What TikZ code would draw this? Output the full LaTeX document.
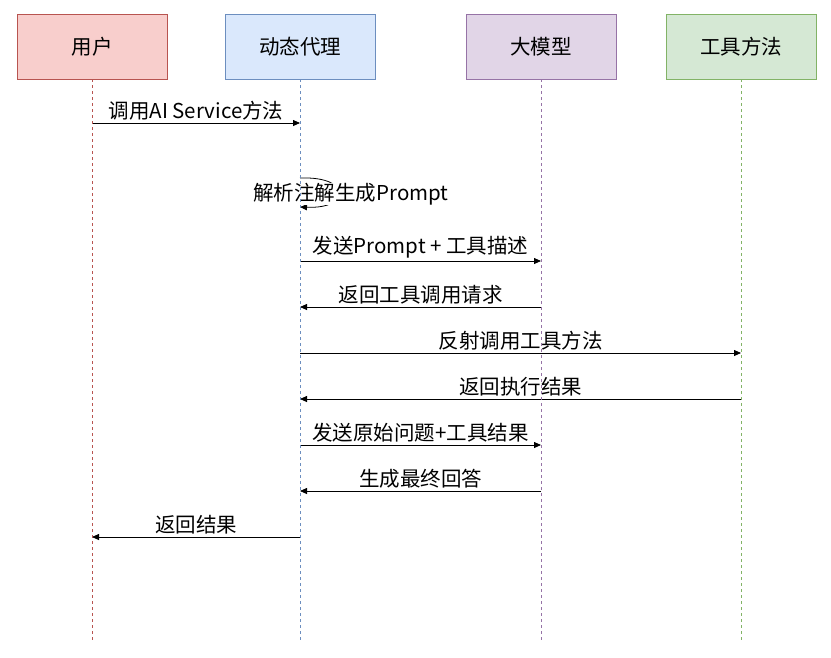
\documentclass[tikz,border=0pt]{standalone}
\usepackage{fontspec}
\setmainfont{Noto Sans CJK SC}
\usepackage{tikz}
\usetikzlibrary{arrows.meta,positioning}
\usepackage{xcolor}
\definecolor{usrfill}{HTML}{F8CECC}
\definecolor{usrline}{HTML}{B85450}
\definecolor{proxyfill}{HTML}{DAE8FC}
\definecolor{proxyline}{HTML}{6C8EBF}
\definecolor{llmfill}{HTML}{E1D5E7}
\definecolor{llmline}{HTML}{9673A6}
\definecolor{toolfill}{HTML}{D5E8D4}
\definecolor{toolline}{HTML}{82B366}
\tikzstyle{actor} = [rectangle, minimum width=150pt, minimum height=65pt, text centered, font=\fontsize{20.5pt}{22pt}\selectfont, line width=0.8pt]
\tikzstyle{lifeline} = [line width=0.7pt, dash pattern=on 3pt off 3pt]
\tikzstyle{msg} = [line width=0.8pt, -{Triangle[length=7pt,width=6pt]}]
\tikzstyle{msglabel} = [font=\fontsize{20.5pt}{22pt}\selectfont, inner sep=1pt, yshift=1pt]

\begin{document}
\begin{tikzpicture}[x=1pt, y=-1pt]
\useasboundingbox (0,0) rectangle (831,657);
% participants
\node[actor, draw=usrline, fill=usrfill] (user) at (92,46.5) {用户};
\node[actor, draw=proxyline, fill=proxyfill] (proxy) at (300,46.5) {动态代理};
\node[actor, draw=llmline, fill=llmfill] (llm) at (541,46.5) {大模型};
\node[actor, draw=toolline, fill=toolfill] (tool) at (741,46.5) {工具方法};

% lifeline ends
\coordinate (userend) at (92,640);
\coordinate (proxyend) at (300,640);
\coordinate (llmend) at (541,640);
\coordinate (toolend) at (741,640);

% message points
\coordinate (u1) at (92,123);   \coordinate (p1) at (300,123);
\coordinate (p2a) at (300,178); \coordinate (p2b) at (300,207);
\coordinate (p3) at (300,261);  \coordinate (l3) at (541,261);
\coordinate (p4) at (300,307);  \coordinate (l4) at (541,307);
\coordinate (p5) at (300,353);  \coordinate (t5) at (741,353);
\coordinate (p6) at (300,399);  \coordinate (t6) at (741,399);
\coordinate (p7) at (300,445);  \coordinate (l7) at (541,445);
\coordinate (p8) at (300,491);  \coordinate (l8) at (541,491);
\coordinate (p9) at (300,537);  \coordinate (u9) at (92,537);

% messages
\draw[msg] (u1) -- node[msglabel, above] {调用AI Service方法} (p1);
\draw[msg] (p2a) .. controls (352,176) and (352,209) .. (p2b);
\node[msglabel, fill=white, inner xsep=0pt, inner ysep=0pt, minimum height=22pt, yshift=0pt] (parse) at (351,195) {解析注解生成Prompt};
\draw[msg] (p3) -- node[msglabel, above] {发送Prompt + 工具描述} (l3);
\draw[msg] (l4) -- node[msglabel, above] {返回工具调用请求} (p4);
\draw[msg] (p5) -- node[msglabel, above] {反射调用工具方法} (t5);
\draw[msg] (t6) -- node[msglabel, above] {返回执行结果} (p6);
\draw[msg] (p7) -- node[msglabel, above] {发送原始问题+工具结果} (l7);
\draw[msg] (l8) -- node[msglabel, above] {生成最终回答} (p8);
\draw[msg] (p9) -- node[msglabel, above] {返回结果} (u9);

% lifelines
\draw[lifeline, usrline] (user.south) -- (userend);
\draw[lifeline, proxyline] (proxy.south) -- (proxyend);
\draw[lifeline, llmline] (llm.south) -- (llmend);
\draw[lifeline, toolline] (tool.south) -- (toolend);
\end{tikzpicture}
\end{document}
